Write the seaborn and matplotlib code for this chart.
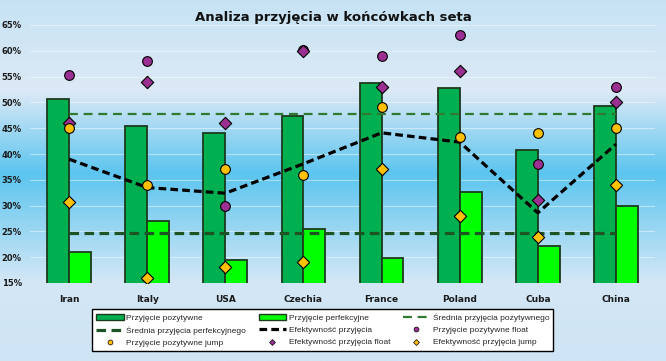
import numpy as np
import pandas as pd
import matplotlib
matplotlib.use("Agg")
import matplotlib.pyplot as plt
import seaborn as sns
from matplotlib.patches import Patch
from matplotlib.lines import Line2D
from matplotlib.colors import LinearSegmentedColormap
from matplotlib.ticker import FuncFormatter, MultipleLocator

# dane
kraje = ['Iran', 'Italy', 'USA', 'Czechia', 'France', 'Poland', 'Cuba', 'China']
przyjecie_pozytywne = [50.7, 45.4, 44.1, 47.4, 53.8, 52.8, 40.8, 49.3]
przyjecie_perfekcyjne = [21.0, 27.0, 19.5, 25.5, 19.8, 32.6, 22.2, 30.0]
efektywnosc = [39.0, 33.5, 32.4, 38.1, 44.1, 42.3, 28.6, 41.9]
pozytywne_float = [55.3, 58.0, 30.0, 60.2, 59.0, 63.1, 38.1, 53.0]
pozytywne_jump = [45.0, 34.0, 37.1, 35.9, 49.1, 43.3, 44.1, 45.0]
efektywnosc_float = [46.0, 54.0, 46.0, 60.0, 53.0, 56.1, 31.1, 50.1]
efektywnosc_jump = [30.7, 16.0, 18.1, 19.1, 37.1, 28.0, 24.0, 34.0]
srednia_pozytywne = 47.8
srednia_perfekcyjne = 24.7

# kolory
c_poz = '#00b050'
c_perf = '#00ff00'
c_edge = '#1c3a1c'
c_sr_poz = '#2f7a30'
c_sr_perf = '#1d5424'
c_fiolet = '#9b2f92'
c_zolty = '#ffc000'

sns.set_theme(style="white")
plt.rcParams['font.family'] = ['DejaVu Sans']

fig = plt.figure(figsize=(6.66, 3.61), dpi=100)

# tlo z gradientem
bg = fig.add_axes([0, 0, 1, 1], zorder=-1)
cmap = LinearSegmentedColormap.from_list('tlo', [
    (0.0, '#c6e3f4'), (0.25, '#dde9f6'), (0.48, '#5cc5ef'),
    (0.78, '#d3e7f6'), (1.0, '#cfe4f4')])
bg.imshow(np.linspace(0, 1, 256).reshape(-1, 1), aspect='auto', cmap=cmap,
          extent=[0, 1, 0, 1])
bg.axis('off')

ax = fig.add_axes([30 / 666, 78 / 361, 625 / 666, 258 / 361])
ax.patch.set_alpha(0)

df = pd.DataFrame({
    'kraj': kraje * 2,
    'wartosc': przyjecie_pozytywne + przyjecie_perfekcyjne,
    'typ': ['Przyjęcie pozytywne'] * len(kraje) + ['Przyjęcie perfekcyjne'] * len(kraje),
})
sns.barplot(data=df, x='kraj', y='wartosc', hue='typ', palette=[c_poz, c_perf],
            saturation=1, width=0.56, edgecolor=c_edge, linewidth=1.3,
            legend=False, ax=ax, zorder=2)

# srednie
ax.hlines(srednia_pozytywne, 0, len(kraje) - 1, color=c_sr_poz, lw=1.6,
          linestyles=[(0, (4, 2.6))], zorder=3)
ax.hlines(srednia_perfekcyjne, 0, len(kraje) - 1, color=c_sr_perf, lw=2.3,
          linestyles=[(0, (3, 1.7))], zorder=3)

# efektywnosc
sns.lineplot(x=np.arange(len(kraje)), y=efektywnosc, color='black', lw=2.3,
             linestyle=(0, (2.4, 1.3)), ax=ax, zorder=4)

# punkty
for vals, mk, col in [(pozytywne_float, 'o', c_fiolet), (efektywnosc_float, 'D', c_fiolet),
                      (pozytywne_jump, 'o', c_zolty), (efektywnosc_jump, 'D', c_zolty)]:
    sns.stripplot(x=kraje, y=vals, jitter=False, marker=mk,
                  size=7 if mk == 'o' else 6.3, color=col, edgecolor='black',
                  linewidth=0.8, ax=ax, zorder=5)

ax.set_xlim(-0.5, len(kraje) - 0.5)
ax.set_ylim(15, 65)
ax.yaxis.set_major_locator(MultipleLocator(5))
ax.yaxis.set_major_formatter(FuncFormatter(lambda v, p: f'{v:.0f}%'))
ax.grid(axis='y', color='white', alpha=0.45, lw=0.8)
ax.set_axisbelow(True)
ax.set_xlabel('')
ax.set_ylabel('')
for s in ax.spines.values():
    s.set_visible(False)
ax.tick_params(axis='both', length=0, colors='#1a1a1a')
ax.tick_params(axis='y', pad=6, labelsize=6)
ax.tick_params(axis='x', pad=9, labelsize=6.5)
for t in ax.get_xticklabels() + ax.get_yticklabels():
    t.set_fontweight('bold')

fig.text(0.5, 1 - 17 / 361, 'Analiza przyjęcia w końcówkach seta', ha='center',
         va='center', fontsize=9.5, fontweight='bold', color='#111111')

# legenda
h = [
    Patch(facecolor=c_poz, edgecolor=c_edge, label='Przyjęcie pozytywne'),
    Line2D([], [], color=c_sr_perf, lw=2.3, ls=(0, (3, 1.7)), label='Średnia przyjęcia perfekcyjnego'),
    Line2D([], [], ls='none', marker='o', ms=3.5, mfc=c_zolty, mec='black', mew=0.5, label='Przyjęcie pozytywne jump'),
    Patch(facecolor=c_perf, edgecolor=c_edge, label='Przyjęcie perfekcyjne'),
    Line2D([], [], color='black', lw=2.3, ls=(0, (2.4, 1.3)), label='Efektywność przyjęcia'),
    Line2D([], [], ls='none', marker='D', ms=3, mfc=c_fiolet, mec='black', mew=0.5, label='Efektywność przyjęcia float'),
    Line2D([], [], color=c_sr_poz, lw=1.6, ls=(0, (4, 2.6)), label='Średnia przyjęcia pozytywnego'),
    Line2D([], [], ls='none', marker='o', ms=3.5, mfc=c_fiolet, mec='black', mew=0.5, label='Przyjęcie pozytywne float'),
    Line2D([], [], ls='none', marker='D', ms=3, mfc=c_zolty, mec='black', mew=0.5, label='Efektywność przyjęcia jump'),
]
leg = fig.legend(handles=h, ncol=3, loc='upper left',
                 bbox_to_anchor=(92 / 666, 1 - 309 / 361),
                 prop={'family': 'Liberation Sans', 'size': 6},
                 frameon=True, fancybox=False, framealpha=1, edgecolor='black',
                 handlelength=3.3, handletextpad=0.3, labelspacing=0.55,
                 borderpad=0.5, columnspacing=1.5, borderaxespad=0)
leg.get_frame().set_linewidth(1.0)

fig.savefig('out.png', dpi=100)
